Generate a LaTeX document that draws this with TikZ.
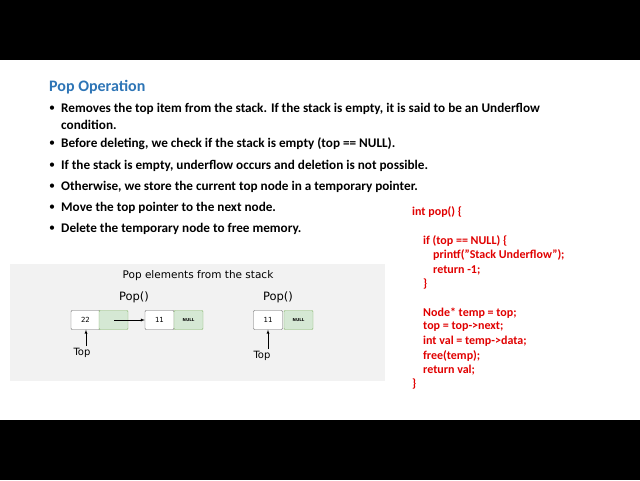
\documentclass[tikz,border=0pt]{standalone}
\usepackage{fontspec}
\setmainfont{Carlito}
\newfontfamily\dv{DejaVu Sans}
\definecolor{tblue}{HTML}{2E75B6}
\definecolor{cred}{HTML}{E00000}
\definecolor{gfill}{HTML}{D5E8D4}
\definecolor{gline}{HTML}{82B366}
\begin{document}
\begin{tikzpicture}[x=1pt,y=-1pt,
  body/.style={anchor=west,font=\bfseries\fontsize{13.2}{15}\selectfont,inner sep=0},
  code/.style={anchor=west,font=\bfseries\fontsize{12}{14}\selectfont,text=cred,inner sep=0},
  cellw/.style={draw=black!60,fill=white,minimum width=29,minimum height=19,inner sep=0,font=\dv\fontsize{7}{8}\selectfont,rounded corners=1},
  cellg/.style={draw=gline,fill=gfill,minimum width=29,minimum height=19,inner sep=0,font=\dv\bfseries\fontsize{4}{5}\selectfont,rounded corners=1},
  lab/.style={font=\dv\fontsize{10}{11}\selectfont,inner sep=0},
  arr/.style={-latex,thin}]
\useasboundingbox (0,0) rectangle (640,480);
\fill[black] (0,0) rectangle (640,60);
\fill[black] (0,420) rectangle (640,480);
\node[anchor=west,inner sep=0,text=tblue,font=\bfseries\fontsize{16}{18}\selectfont] (title) at (49,87) {Pop Operation};
\foreach \y/\t [count=\i] in {109/{Removes the top item from the stack. If the stack is empty, it is said to be an Underflow},
 144/{Before deleting, we check if the stack is empty (top == NULL).},
 166/{If the stack is empty, underflow occurs and deletion is not possible.},
 187/{Otherwise, we store the current top node in a temporary pointer.},
 208/{Move the top pointer to the next node.},
 229/{Delete the temporary node to free memory.}}{
  \node[body] (b\i) at (61,\y) {\t};
  \node[inner sep=0,font=\fontsize{12}{13}\selectfont] (d\i) at (52,\y) {•};
}
\node[body] (b1b) at (61,125) {condition.};
% code
\foreach \x/\y/\t [count=\i] in {412/212/{int pop() \{}, 423/241/{if (top == NULL) \{}, 433/255/{printf("Stack Underflow");},
 433/270/{return -1;}, 423/284/{\}}, 423/313/{Node* temp = top;}, 423/327/{top = top->next;},
 423/341/{int val = temp->data;}, 423/356/{free(temp);}, 423/370/{return val;}, 412/384/{\}}}{
  \node[code] (c\i) at (\x,\y) {\t};
}
% panel
\fill[black!5] (10,264) rectangle (385,381);
\node[lab,font=\dv\fontsize{10.5}{11}\selectfont] (ptitle) at (198,276) {Pop elements from the stack};
\node[lab,font=\dv\fontsize{11.5}{12}\selectfont] (pop1) at (134,297) {Pop()};
\node[lab,font=\dv\fontsize{11.5}{12}\selectfont] (pop2) at (278,297) {Pop()};
\node[cellw] (n1) at (85.5,320) {22};
\node[cellg] (n1g) at (113.5,320) {};
\node[cellw] (n2) at (159.5,320) {11};
\node[cellg] (n2g) at (188.5,320) {NULL};
\node[cellw] (n3) at (268,320) {11};
\node[cellg] (n3g) at (298.5,320) {NULL};
\coordinate (s1) at (114,320);
\draw[arr] (s1) -- (n2.west);
\node[lab] (top1) at (82,353) {Top};
\node[lab] (top2) at (262,356) {Top};
\coordinate (t1) at (86,346);
\coordinate (t2) at (268,349);
\draw[arr] (t1) -- (n1.south -| t1);
\draw[arr] (t2) -- (n3.south);
\end{tikzpicture}
\end{document}
